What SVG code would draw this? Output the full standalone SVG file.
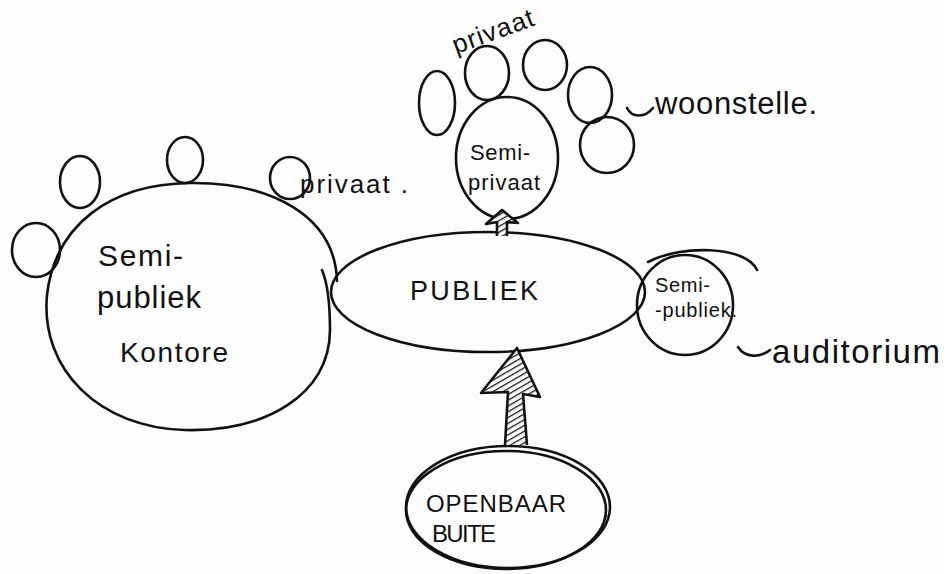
<svg xmlns="http://www.w3.org/2000/svg" width="944" height="574" viewBox="0 0 944 574">
<defs>
<style>
.s{fill:none;stroke:#111;stroke-width:2.6;stroke-linecap:round;stroke-linejoin:round}
.a{stroke:#111;stroke-width:2.6;stroke-linejoin:round;fill:url(#hatch)}
.t{font-family:"Liberation Sans","DejaVu Sans",sans-serif;fill:#111}
</style>
<pattern id="hatch" width="5" height="5" patternUnits="userSpaceOnUse" patternTransform="rotate(60)">
<rect width="5" height="5" fill="#fff"/>
<line x1="0" y1="0" x2="0" y2="5" stroke="#111" stroke-width="2.5"/>
</pattern>
</defs>
<rect width="944" height="574" fill="#fdfdfd"/>

<g id="kontore">
<path class="s" d="M337,281 C335,215 270,182 190,183 C110,184 55,225 47,295 C40,370 100,428 185,430 C265,432 330,395 330,330 C330,300 327,282 322,270"/>
<ellipse class="s" cx="80" cy="182" rx="20" ry="26"/>
<ellipse class="s" cx="185" cy="160" rx="18" ry="23"/>
<ellipse class="s" cx="290" cy="178" rx="20" ry="21"/>
<ellipse class="s" cx="36" cy="250" rx="24" ry="27"/>
<text class="t" x="98" y="266" font-size="30" textLength="85">Semi-</text>
<text class="t" x="97" y="308" font-size="31" textLength="104">publiek</text>
<text class="t" x="120" y="362" font-size="28" textLength="108">Kontore</text>
<text class="t" x="300" y="193" font-size="26" textLength="108">privaat .</text>
</g>

<g id="publiek">
<ellipse class="s" cx="488" cy="292" rx="157" ry="60"/>
<text class="t" x="410" y="300" font-size="27" textLength="128">PUBLIEK</text>
</g>

<g id="auditorium">
<ellipse class="s" cx="685" cy="305" rx="48" ry="50"/>
<path class="s" d="M648,262 C680,245 745,245 757,270"/>
<path class="s" d="M738,347 C745,358 760,358 770,350"/>
<text class="t" x="655" y="292" font-size="20" textLength="55">Semi-</text>
<text class="t" x="655" y="317" font-size="20" textLength="82">-publiek.</text>
<text class="t" x="772" y="363" font-size="33" textLength="168">auditorium</text>
</g>

<g id="semiprivaat">
<ellipse class="s" cx="507" cy="158" rx="51" ry="61"/>
<ellipse class="s" cx="437" cy="103" rx="18" ry="32"/>
<ellipse class="s" cx="487" cy="73" rx="22" ry="27"/>
<ellipse class="s" cx="545" cy="65" rx="22" ry="25"/>
<ellipse class="s" cx="590" cy="95" rx="22" ry="28"/>
<ellipse class="s" cx="607" cy="145" rx="27" ry="28"/>
<path class="s" d="M627,108 C632,118 645,118 653,108"/>
<text class="t" x="470" y="160" font-size="22" textLength="60">Semi-</text>
<text class="t" x="468" y="190" font-size="22" textLength="72">privaat</text>
<text class="t" x="456" y="54" font-size="26" textLength="85" transform="rotate(-20 456 54)">privaat</text>
<text class="t" x="655" y="114" font-size="31" textLength="162">woonstelle.</text>
</g>

<g id="openbaar">
<ellipse class="s" cx="508" cy="507" rx="102" ry="61"/>
<ellipse class="s" cx="506" cy="510" rx="100" ry="59" stroke-width="1.6"/>
<text class="t" x="426" y="512" font-size="24" textLength="140">OPENBAAR</text>
<text class="t" x="432" y="542" font-size="24" textLength="64">BUITE</text>
</g>

<g id="connectors">
<path class="a" d="M505,445 L508,392 L481,393 L517,348 L540,397 L523,394 L527,445"/>
<path class="a" d="M497,236 L497,222 L486,224 L502,210 L518,223 L507,222 L507,236"/>
</g>
</svg>
